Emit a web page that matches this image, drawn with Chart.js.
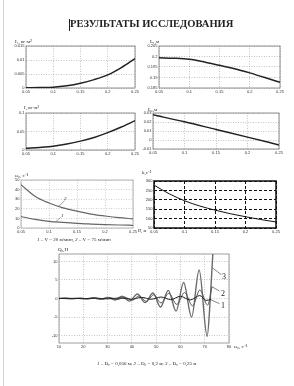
<!DOCTYPE html>
<html>
<head>
<meta charset="utf-8">
<script src="https://cdn.jsdelivr.net/npm/chart.js@4.4.1/dist/chart.umd.min.js"></script>
<style>
html, body { margin: 0; padding: 0; background: #fff; }
#page { position: relative; width: 294px; height: 386px; overflow: hidden;
  font-family: "Liberation Serif", "Times New Roman", serif; color: #222; }
#page canvas { position: absolute; left: 0; top: 0; }
.t { position: absolute; white-space: nowrap; line-height: 1; }
.s { font-size: 5px; }
.edge { position: absolute; left: 3px; top: 0; width: 1px; height: 386px; background: #d4d4d4; }
.cursor { position: absolute; left: 69px; top: 19px; width: 1px; height: 12px; background: #222; }
</style>
</head>
<body>
<div id="page">
<div class="edge"></div>
<div class="cursor"></div>
<canvas id="c1" width="294" height="386"></canvas>
<canvas id="c2" width="294" height="386"></canvas>
<canvas id="c3" width="294" height="386"></canvas>
<canvas id="c4" width="294" height="386"></canvas>
<canvas id="c5" width="294" height="386"></canvas>
<canvas id="c6" width="294" height="386"></canvas>
<canvas id="c7" width="294" height="386"></canvas>

<div class="t" style="left:70px;top:19px;font-size:10.5px;font-weight:bold;">РЕЗУЛЬТАТЫ ИССЛЕДОВАНИЯ</div>
<div class="t s" style="left:15px;top:39px;">I₁, кг·м²</div>
<div class="t s" style="left:150px;top:39px;">L₁,м</div>
<div class="t s" style="left:24px;top:105px;">I, кг·м²</div>
<div class="t s" style="left:148px;top:107px;">L₂,м</div>
<div class="t s" style="left:15px;top:173px;">ω₀, с⁻¹</div>
<div class="t" style="left:138px;top:229px;font-size:4.5px;">D, м</div>
<div class="t s" style="left:37px;top:237px;"><i>1</i> – V = 20 м/мин, <i>2</i> – V = 75 м/мин</div>
<div class="t" style="left:64px;top:196px;font-size:5px;font-style:italic;">2</div>
<div class="t" style="left:61px;top:213px;font-size:5px;font-style:italic;">1</div>
<div class="t s" style="left:142px;top:170px;">k,с⁻¹</div>
<div class="t s" style="left:58px;top:247px;">Q₀,Н</div>
<div class="t s" style="left:234px;top:344px;">ω₀, с⁻¹</div>
<div class="t" style="left:222px;top:273px;font-size:8px;">3</div>
<div class="t" style="left:221px;top:290px;font-size:8px;">2</div>
<div class="t" style="left:221px;top:302px;font-size:8px;">1</div>
<div class="t s" style="left:97px;top:361px;"><i>1</i> – D₀ = 0,056 м; <i>2</i> – D₀ = 0,2 м; <i>3</i> – D₀ = 0,25 м</div>
</div>

<script>
// diameters D, m (x values of the small charts)
var dVals = [0.05, 0.075, 0.1, 0.125, 0.15, 0.175, 0.2, 0.225, 0.25];
var dTicks = [0.05, 0.1, 0.15, 0.2, 0.25];
var dTickLabels = ['0.05', '0.1', '0.15', '0.2', '0.25'];

// chart 1: I1
var i1Vals = [0.0001, 0.0002, 0.0003, 0.0008, 0.0017, 0.003, 0.0047, 0.0073, 0.0105];
var i1Ticks = [0, 0.005, 0.01, 0.015];
var i1TickLabels = ['0', '0.005', '0.01', '0.015'];

// chart 2: L1
var l1Vals = [0.1994, 0.1992, 0.1987, 0.1974, 0.1958, 0.1942, 0.1922, 0.19, 0.1877];
var l1Ticks = [0.185, 0.19, 0.195, 0.2, 0.205];
var l1TickLabels = ['0.185', '0.19', '0.195', '0.2', '0.205'];

// chart 3: I
var iVals = [0.005, 0.007, 0.01, 0.016, 0.024, 0.034, 0.047, 0.062, 0.079];
var iTicks = [0, 0.05, 0.1];
var iTickLabels = ['0', '0.05', '0.1'];

// chart 4: L2
var l2D = [0.05, 0.1, 0.15, 0.2, 0.25];
var l2Vals = [0.028, 0.0202, 0.0117, 0.0032, -0.0055];
var l2Ticks = [-0.01, 0, 0.01, 0.02, 0.03];
var l2TickLabels = ['-0.01', '0', '0.01', '0.02', '0.03'];

// chart 5: omega0 for V = 20 and V = 75 m/min
var w20Vals = [12, 9, 7, 5.8, 4.8, 4.1, 3.5, 3.1, 2.8];
var w75Vals = [45, 33, 26, 21, 17.5, 14.5, 12.5, 10.8, 9.5];
var wTicks = [0, 10, 20, 30, 40, 50];
var wTickLabels = ['0', '10', '20', '30', '40', '50'];

// chart 6: k
var kVals = [278, 232, 195, 167, 145, 126, 110, 95, 82];
var kTicks = [50, 100, 150, 200, 250, 300];
var kTickLabels = ['50', '100', '150', '200', '250', '300'];

// chart 7: Q0 against omega0, three diameters
var q1Omega = [10, 15, 20, 25, 30, 35, 40, 44, 48, 52, 56, 60, 64, 68, 70.5, 72.7];
var q1Vals  = [0, 0.05, -0.05, 0.1, -0.1, 0.15, -0.2, 0.3, -0.2, 0.4, -0.3, 0.6, -0.4, 0.8, -0.5, -0.3];
var q2Omega = [10, 13, 16, 19, 22, 25, 28, 31, 34, 37, 40, 43, 46, 49, 52, 55.2, 58.5, 61.7, 65, 68, 71.2, 73];
var q2Vals  = [0, 0.1, -0.1, 0.1, -0.15, 0.15, -0.2, 0.25, -0.3, 0.4, -0.5, 0.7, -0.8, 1.0, -1.2, 1.4, -1.6, 1.6, -2.0, 2.3, -1.8, 3.2];
var q3Omega = [10, 12, 15, 18, 21, 24, 27, 30, 33, 36, 39, 42.3, 45.5, 48.7, 51.8, 55, 58.2, 61.3, 64.6, 67.7, 71, 72.3, 74];
var q3Vals  = [0, 0.05, -0.05, 0.1, -0.1, 0.2, -0.2, 0.3, -0.4, 0.6, -0.7, 1.2, -1.1, 1.5, -2.3, 2.2, -3.4, 4.3, -5, 7.7, -10.2, 0, 20];
var omegaTicks = [10, 20, 30, 40, 50, 60, 70, 80];
var omegaTickLabels = ['10', '20', '30', '40', '50', '60', '70', '80'];
var qTicks = [-10, -5, 0, 5, 10];
var qTickLabels = ['-10', '-5', '0', '5', '10'];

var Y_W = 16, X_H = 7;

function pts(xs, ys) {
  return xs.map(function(x, i) { return {x: x, y: ys[i]}; });
}

// box round the plot area
var framePlugin = {
  id: 'frame',
  beforeDatasetsDraw: function(chart, args, opts) {
    var a = chart.chartArea, c = chart.ctx;
    c.save();
    c.strokeStyle = opts.color;
    c.lineWidth = opts.width;
    c.strokeRect(a.left, a.top, a.right - a.left, a.bottom - a.top);
    c.restore();
  }
};

// thin leader lines from a curve to its number
var leaderPlugin = {
  id: 'leaders',
  afterDatasetsDraw: function(chart, args, opts) {
    if (!opts.lines) return;
    var c = chart.ctx, sx = chart.scales.x, sy = chart.scales.y;
    c.save();
    c.strokeStyle = opts.color || '#333';
    c.lineWidth = 0.6;
    opts.lines.forEach(function(l) {
      c.beginPath();
      c.moveTo(sx.getPixelForValue(l[0]), sy.getPixelForValue(l[1]));
      c.lineTo(sx.getPixelForValue(l[2]), sy.getPixelForValue(l[3]));
      c.stroke();
    });
    c.restore();
  }
};

Chart.register(framePlugin, leaderPlugin);

function axis(range, ticks, labels, horiz, st) {
  return {
    type: 'linear', min: range[0], max: range[1],
    afterBuildTicks: function(s) { s.ticks = ticks.map(function(v) { return {value: v}; }); },
    afterFit: function(s) {
      if (horiz) { s.height = X_H; s.paddingLeft = 0; s.paddingRight = 0; }
      else { s.width = Y_W; s.paddingTop = 0; s.paddingBottom = 0; }
    },
    ticks: {
      autoSkip: false, maxRotation: 0, padding: 1.5,
      color: '#333', font: {family: 'Liberation Sans', size: 4},
      callback: function(v, i) { return labels[i]; }
    },
    grid: {color: st.grid, lineWidth: st.gw, drawTicks: false},
    border: {display: false, dash: st.dash}
  };
}

function lineChart(id, rect, xs, ys, sets, st) {
  return new Chart(document.getElementById(id), {
    type: 'line',
    data: {datasets: sets},
    options: {
      responsive: false, animation: false,
      layout: {padding: {left: rect[0] - Y_W, top: rect[1], right: 294 - rect[2], bottom: 386 - rect[3] - X_H}},
      elements: {point: {radius: 0}, line: {cubicInterpolationMode: 'monotone'}},
      plugins: {
        legend: {display: false}, tooltip: {enabled: false},
        frame: {color: st.frame, width: st.fw},
        leaders: {lines: st.leaders, color: st.leaderColor}
      },
      scales: {
        x: axis(xs[0], xs[1], xs[2], true, st),
        y: axis(ys[0], ys[1], ys[2], false, st)
      }
    }
  });
}

var dotted = {grid: '#9a9a9a', gw: 0.6, dash: [1, 1.5], frame: '#777', fw: 0.8};
var dx = [[0.05, 0.25], dTicks, dTickLabels];

lineChart('c1', [26, 46, 135, 88], dx, [[0, 0.015], i1Ticks, i1TickLabels],
  [{data: pts(dVals, i1Vals), borderColor: '#222', borderWidth: 1.5}], dotted);

lineChart('c2', [159, 46, 280, 88], dx, [[0.185, 0.205], l1Ticks, l1TickLabels],
  [{data: pts(dVals, l1Vals), borderColor: '#222', borderWidth: 1.5}], dotted);

lineChart('c3', [26, 113, 135, 150], dx, [[0, 0.1], iTicks, iTickLabels],
  [{data: pts(dVals, iVals), borderColor: '#222', borderWidth: 1.5}], dotted);

lineChart('c4', [153, 113, 279, 149], dx, [[-0.01, 0.03], l2Ticks, l2TickLabels],
  [{data: pts(l2D, l2Vals), borderColor: '#222', borderWidth: 1.5}], dotted);

lineChart('c5', [21, 180, 133, 228], dx, [[0, 50], wTicks, wTickLabels],
  [{data: pts(dVals, w20Vals), borderColor: '#666', borderWidth: 1.2},
   {data: pts(dVals, w75Vals), borderColor: '#666', borderWidth: 1.2}],
  {grid: '#b0b0b0', gw: 0.6, dash: [1, 1.5], frame: '#999', fw: 0.7, leaderColor: '#666',
   leaders: [[0.118, 23, 0.128, 28.5], [0.112, 6.6, 0.121, 11]]});

lineChart('c6', [154, 181, 276, 228], dx, [[50, 300], kTicks, kTickLabels],
  [{data: pts(dVals, kVals), borderColor: '#111', borderWidth: 1}],
  {grid: '#111', gw: 1, dash: [3, 2], frame: '#111', fw: 1.5});

lineChart('c7', [59, 254, 229, 343], [[10, 80], omegaTicks, omegaTickLabels], [[-12, 12], qTicks, qTickLabels],
  [{data: pts(q1Omega, q1Vals), borderColor: '#222', borderWidth: 1},
   {data: pts(q2Omega, q2Vals), borderColor: '#555', borderWidth: 1},
   {data: pts(q3Omega, q3Vals), borderColor: '#6a6a6a', borderWidth: 1.4}],
  {grid: '#a0a0a0', gw: 0.6, dash: [1, 1.5], frame: '#888', fw: 0.8, leaderColor: '#333',
   leaders: [[73.3, 8.2, 76.9, 6.4], [72.9, 3.2, 76.1, 2], [72.7, -0.4, 76.1, -1.4]]});
</script>
</body>
</html>
